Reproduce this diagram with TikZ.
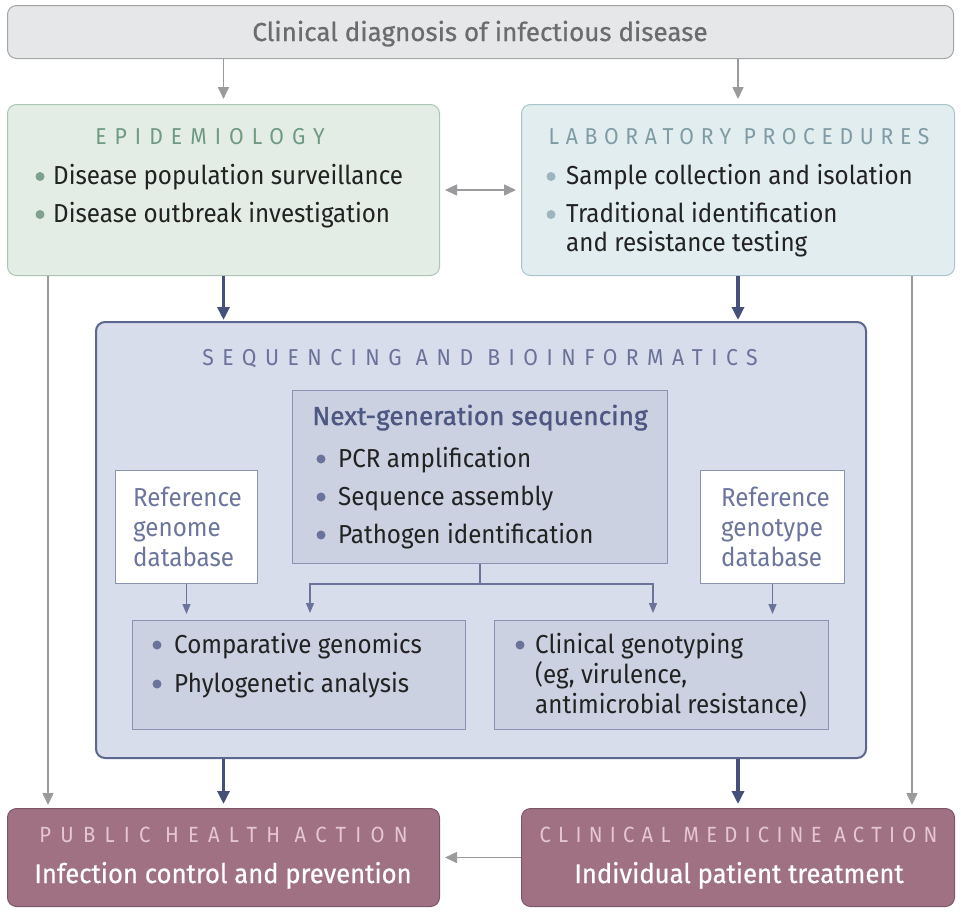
\documentclass[tikz,border=0pt]{standalone}
\usepackage{fontspec}
\usetikzlibrary{arrows.meta}
\setmainfont{Fira Sans}[FakeStretch=0.93]
\newfontfamily\topfont{Fira Sans}[FakeStretch=1.0,FakeBold=0.7]
\newfontfamily\whitefont{Fira Sans}[FakeStretch=0.95,FakeBold=0.7]
\newfontfamily\semifont{Fira Sans}[FakeStretch=1.01,FakeBold=1.2]
\newfontfamily\capfont{Fira Sans}[FakeStretch=0.92]
\definecolor{topfill}{HTML}{E6E7E9}
\definecolor{topdraw}{HTML}{A3A4A6}
\definecolor{toptext}{HTML}{6B6C6E}
\definecolor{epifill}{HTML}{E3EDE5}
\definecolor{epidraw}{HTML}{ABC6B3}
\definecolor{epititle}{HTML}{6E9A82}
\definecolor{epibullet}{HTML}{7FA08C}
\definecolor{labfill}{HTML}{E2EDF0}
\definecolor{labdraw}{HTML}{A9C5CC}
\definecolor{labtitle}{HTML}{7F9CA5}
\definecolor{labbullet}{HTML}{9DB5BC}
\definecolor{grayarrow}{HTML}{9B9B9D}
\definecolor{navy}{HTML}{46517A}
\definecolor{seqfill}{HTML}{D8DDEB}
\definecolor{seqdraw}{HTML}{5C6790}
\definecolor{seqtitle}{HTML}{6A7299}
\definecolor{ngsfill}{HTML}{CCD1E2}
\definecolor{ngsdraw}{HTML}{8B93B5}
\definecolor{ngstitle}{HTML}{4D5882}
\definecolor{slate}{HTML}{6A7399}
\definecolor{reftext}{HTML}{6C769D}
\definecolor{mauvefill}{HTML}{A07183}
\definecolor{mauvedraw}{HTML}{7E566A}
\definecolor{mauvetitle}{HTML}{E6C7D1}
\definecolor{textcol}{HTML}{222222}
\tikzset{
  bigbox/.style={rounded corners=9pt, line width=1pt, anchor=north west, inner sep=0pt},
  sqbox/.style={line width=1pt, anchor=north west, inner sep=0pt},
  txt/.style={inner sep=0pt, anchor=base west, text=textcol, font=\fontsize{26}{30}\selectfont},
  captitle/.style={inner sep=0pt, anchor=base},
  grayarr/.style={draw=grayarrow, line width=1.6pt, -{Triangle[length=12pt,width=11pt]}},
  grayarrboth/.style={draw=grayarrow, line width=1.6pt, {Triangle[length=12pt,width=11pt]}-{Triangle[length=12pt,width=11pt]}},
  navyarr/.style={draw=navy, line width=3.2pt, -{Triangle[length=13pt,width=12pt]}},
  slatearr/.style={draw=slate, line width=1.3pt, -{Triangle[length=10pt,width=8pt]}},
  slateline/.style={draw=slate, line width=1.3pt},
}
\begin{document}
\begin{tikzpicture}[x=1pt,y=-1pt]
\useasboundingbox (0,0) rectangle (961,913);
% boxes
\node[bigbox, fill=topfill, draw=topdraw, minimum width=946, minimum height=53] (top) at (7,5) {};
\node[bigbox, fill=epifill, draw=epidraw, minimum width=432, minimum height=171] (epi) at (7,104) {};
\node[bigbox, fill=labfill, draw=labdraw, minimum width=433, minimum height=171] (lab) at (521,104) {};
\node[bigbox, fill=seqfill, draw=seqdraw, line width=2pt, minimum width=770, minimum height=436] (seq) at (95,321) {};
\node[sqbox, fill=ngsfill, draw=ngsdraw, minimum width=375, minimum height=173] (ngs) at (292,390) {};
\node[sqbox, fill=white, draw=ngsdraw, minimum width=142, minimum height=113] (rgen) at (115,470) {};
\node[sqbox, fill=white, draw=ngsdraw, minimum width=144, minimum height=113] (rgty) at (700,470) {};
\node[sqbox, fill=ngsfill, draw=ngsdraw, minimum width=333, minimum height=109] (comp) at (132,620) {};
\node[sqbox, fill=ngsfill, draw=ngsdraw, minimum width=334, minimum height=109] (cgen) at (494,620) {};
\node[bigbox, fill=mauvefill, draw=mauvedraw, minimum width=432, minimum height=98] (pub) at (7,808) {};
\node[bigbox, fill=mauvefill, draw=mauvedraw, minimum width=433, minimum height=98] (clin) at (521,808) {};
% texts
\node[inner sep=0pt, anchor=base, text=toptext, font=\topfont\fontsize{26}{30}\selectfont] (toptxt) at (480,41) {Clinical diagnosis of infectious disease};
\node[captitle, text=epititle, font=\capfont\addfontfeature{LetterSpace=35}\fontsize{23}{27}\selectfont] (epit) at (210,144) {EPIDEMIOLOGY};
\node[txt] (epi1) at (53,184) {Disease population surveillance};
\node[txt] (epi2) at (53,222) {Disease outbreak investigation};
\fill[epibullet] (40,176.5) circle (4.5);
\fill[epibullet] (40,214.5) circle (4.5);
\node[captitle, text=labtitle, font=\capfont\addfontfeature{LetterSpace=29}\fontsize{23}{27}\selectfont] (labt) at (739,144) {LABORATORY PROCEDURES};
\node[txt] (lab1) at (566,184) {Sample collection and isolation};
\node[txt] (lab2) at (566,222) {Traditional identification};
\node[txt] (lab3) at (566,251) {and resistance testing};
\fill[labbullet] (551,176.5) circle (4.5);
\fill[labbullet] (551,214.5) circle (4.5);
\node[captitle, text=seqtitle, font=\capfont\addfontfeature{LetterSpace=37}\fontsize{23}{27}\selectfont] (seqt) at (480,365) {SEQUENCING AND BIOINFORMATICS};
\node[inner sep=0pt, anchor=base, text=ngstitle, font=\semifont\fontsize{26}{30}\selectfont] (ngst) at (480,425) {Next-generation sequencing};
\node[txt] (ngs1) at (338,467) {PCR amplification};
\node[txt] (ngs2) at (338,505) {Sequence assembly};
\node[txt] (ngs3) at (338,543) {Pathogen identification};
\fill[slate] (321,459) circle (4.5);
\fill[slate] (321,497) circle (4.5);
\fill[slate] (321,535) circle (4.5);
\node[txt, text=reftext, align=left, font=\fontsize{26}{30}\selectfont] (rgent) at (133,566) {Reference\\genome\\database};
\node[txt, text=reftext, align=left, font=\fontsize{26}{30}\selectfont] (rgtyt) at (721,566) {Reference\\genotype\\database};
\node[txt] (comp1) at (174,653) {Comparative genomics};
\node[txt] (comp2) at (174,692) {Phylogenetic analysis};
\fill[slate] (157,645) circle (4.5);
\fill[slate] (157,684) circle (4.5);
\node[txt] (cg1) at (535,653) {Clinical genotyping};
\node[txt] (cg2) at (535,683) {(eg, virulence,};
\node[txt] (cg3) at (535,713) {antimicrobial resistance)};
\fill[slate] (520,645) circle (4.5);
\node[captitle, text=mauvetitle, font=\capfont\addfontfeature{LetterSpace=42}\fontsize{22}{26}\selectfont] (pubt) at (223.5,842) {PUBLIC HEALTH ACTION};
\node[inner sep=0pt, anchor=base, text=white, font=\whitefont\fontsize{27}{31}\selectfont] (pubs) at (223,883) {Infection control and prevention};
\node[captitle, text=mauvetitle, font=\capfont\addfontfeature{LetterSpace=33}\fontsize{22}{26}\selectfont] (clint) at (738.5,842) {CLINICAL MEDICINE ACTION};
\node[inner sep=0pt, anchor=base, text=white, font=\whitefont\fontsize{27}{31}\selectfont] (clins) at (739,883) {Individual patient treatment};
% connectors
\draw[grayarr, shorten >=5pt] (epi.north |- top.south) -- (epi.north);
\draw[grayarr, shorten >=5pt] (lab.north |- top.south) -- (lab.north);
\draw[grayarrboth, shorten >=5pt, shorten <=5pt] (epi.east) -- (lab.west);
\draw[navyarr, shorten >=1pt] (epi.south) -- (epi.south |- seq.north);
\draw[navyarr, shorten >=1pt] (lab.south) -- (lab.south |- seq.north);
\draw[navyarr, shorten >=4pt] (pub.north |- seq.south) -- (pub.north);
\draw[navyarr, shorten >=4pt] (clin.north |- seq.south) -- (clin.north);
\draw[grayarr, shorten >=3pt] ([xshift=41pt]epi.south west) -- ([xshift=41pt]pub.north west);
\draw[grayarr, shorten >=3pt] ([xshift=-43pt]lab.south east) -- ([xshift=-43pt]clin.north east);
\draw[grayarr, shorten >=5pt] (clin.west) -- (pub.east);
\coordinate (split) at (ngs.south |- rgen.south);
\coordinate (cl) at (310,613);
\coordinate (cr) at (653,613);
\draw[slateline] (ngs.south) -- (split);
\draw[slatearr] (split) -| (cl);
\draw[slatearr] (split) -| (cr);
\draw[slatearr, shorten >=6pt] (rgen.south) -- (rgen.south |- comp.north);
\draw[slatearr, shorten >=6pt] (rgty.south) -- (rgty.south |- cgen.north);
\end{tikzpicture}
\end{document}
